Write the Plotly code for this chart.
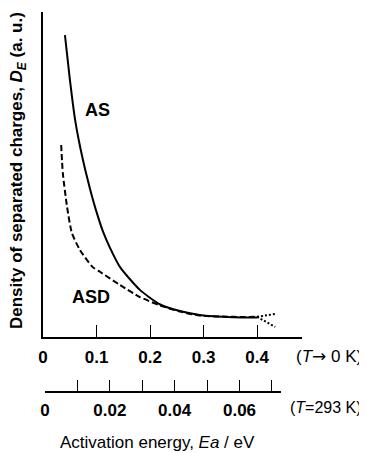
import plotly.graph_objects as go

# ---- data ----
as_x = [0.041, 0.050, 0.060, 0.070, 0.079, 0.088, 0.100, 0.112, 0.125, 0.144, 0.181, 0.219, 0.256, 0.293, 0.355, 0.400]
as_y = [0.929, 0.795, 0.668, 0.580, 0.514, 0.455, 0.385, 0.325, 0.275, 0.215, 0.145, 0.100, 0.080, 0.068, 0.061, 0.060]
asd_x = [0.034, 0.037, 0.045, 0.054, 0.069, 0.093, 0.107, 0.144, 0.181, 0.219, 0.256, 0.293, 0.355, 0.400]
asd_y = [0.591, 0.505, 0.400, 0.320, 0.268, 0.215, 0.200, 0.160, 0.123, 0.097, 0.078, 0.066, 0.062, 0.062]
ext_up_x = [0.400, 0.434]
ext_up_y = [0.062, 0.071]
ext_dn_x = [0.400, 0.434]
ext_dn_y = [0.062, 0.031]

main_ticks = [0, 0.1, 0.2, 0.3, 0.4]
main_labels = ["0", "0.1", "0.2", "0.3", "0.4"]
sec_ticks = [0, 0.02, 0.04, 0.06]
sec_labels = ["0", "0.02", "0.04", "0.06"]
sec_minor_step = 0.01

# page body has an 8px margin: the figure starts at (8, 8) in the window
OFF = 8
WIN_W, WIN_H = 367, 453
W, H = WIN_W - OFF, WIN_H - OFF
X0, X1 = 43, 302
Y0 = 12
YMAIN = 337
YSEC = 391
L = X0 - OFF
R = W - (X1 - OFF)
T = Y0 - OFF
B = H - (YSEC - OFF)
PW, PH = W - L - R, H - T - B

def px(x):
    return (x - X0) / PW

def py(y):
    return (YSEC - y) / PH

FONT = "Arial, Liberation Sans, Helvetica, sans-serif"

fig = go.Figure()
fig.add_trace(go.Scatter(x=as_x, y=as_y, mode="lines", line=dict(color="black", width=2, shape="spline", smoothing=0.6), showlegend=False))
fig.add_trace(go.Scatter(x=asd_x, y=asd_y, mode="lines", line=dict(color="black", width=2, dash="6px,3px", shape="spline", smoothing=0.6), showlegend=False))
fig.add_trace(go.Scatter(x=ext_up_x, y=ext_up_y, mode="lines", line=dict(color="black", width=2, dash="2px,2px"), showlegend=False))
fig.add_trace(go.Scatter(x=ext_dn_x, y=ext_dn_y, mode="lines", line=dict(color="black", width=2, dash="2px,2px"), showlegend=False))
fig.add_trace(go.Scatter(x=[None], y=[None], xaxis="x2", yaxis="y2", showlegend=False, hoverinfo="skip"))

fig.update_layout(
    width=W, height=H,
    margin=dict(l=L, r=R, t=T, b=B, autoexpand=False),
    plot_bgcolor="rgba(0,0,0,0)", paper_bgcolor="white",
    font=dict(family=FONT, color="black"),
    xaxis=dict(range=[0, 0.484], domain=[0, 1], anchor="y",
               showgrid=False, zeroline=False, showline=True, linecolor="black", linewidth=1.5,
               tickvals=main_ticks, ticktext=["<b>%s</b>" % t for t in main_labels],
               ticks="inside", ticklen=12, tickwidth=1, tickcolor="black",
               tickfont=dict(size=17, family=FONT), ticklabelstandoff=4),
    xaxis2=dict(range=[0, 0.0728], domain=[px(45), px(281)], anchor="y2",
                showgrid=False, zeroline=False, showline=True, linecolor="black", linewidth=1.5,
                tickvals=sec_ticks, ticktext=["<b>%s</b>" % t for t in sec_labels],
                ticks="inside", ticklen=11, tickwidth=1, tickcolor="black",
                minor=dict(ticks="inside", ticklen=11, tickwidth=1, tickcolor="black",
                           tick0=0, dtick=sec_minor_step, showgrid=False),
                tickfont=dict(size=17, family=FONT), ticklabelstandoff=3),
    yaxis=dict(range=[0, 1], domain=[py(YMAIN), 1], showgrid=False, zeroline=False,
               showline=True, linecolor="black", linewidth=1.5, showticklabels=False, ticks=""),
    yaxis2=dict(range=[0, 1], domain=[0, 0.003], visible=False, showgrid=False, zeroline=False),
)

anns = [
    dict(text="<b>AS</b>", x=px(97), y=py(110), size=18, xa="center"),
    dict(text="<b>ASD</b>", x=px(91), y=py(297), size=18, xa="center"),
    dict(text="(<i>T</i><span style=\"font-family:DejaVu Sans\">\u2192</span> 0 K)", x=px(364), y=py(356), size=17, xa="right"),
    dict(text="(<i>T</i>=293 K)", x=px(364), y=py(407), size=16, xa="right"),
    dict(text="Activation energy, <i>Ea</i> / eV", x=px(157), y=py(442), size=17, xa="center"),
]
for a in anns:
    fig.add_annotation(text=a["text"], x=a["x"], y=a["y"], xref="paper", yref="paper",
                       showarrow=False, xanchor=a["xa"], yanchor="middle",
                       font=dict(size=a["size"], family=FONT, color="black"))

fig.add_annotation(text="<b>Density of separated charges, <i>D<sub>E</sub></i> (a. u.)</b>",
                   x=px(18), y=py(171), xref="paper", yref="paper", showarrow=False,
                   textangle=-90, xanchor="center", yanchor="middle",
                   font=dict(size=17, family=FONT, color="black"))

fig.write_html("out.html")
